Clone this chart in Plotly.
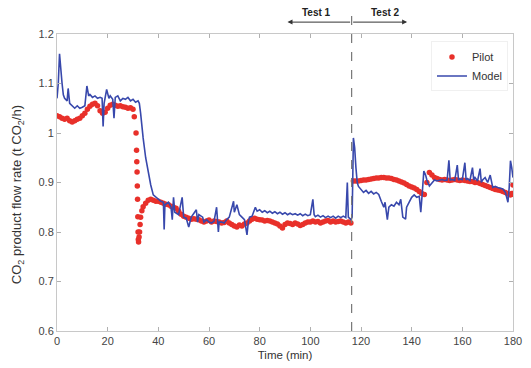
import plotly.graph_objects as go

# Pilot measurements (time in min, flow in t CO2/h)
pilot_t = [0, 1, 2, 3, 4, 5, 6, 7, 8, 9, 10, 11, 12, 13, 14, 15, 16, 17, 18, 19,
           20, 21, 22, 23, 24, 25, 26, 27, 28, 29, 30, 30.5, 31.2, 31.4, 31.5, 31.6,
           31.7, 31.8, 31.9, 32.0, 32.1, 32.2, 32.4, 32.6, 32.8, 33, 33.5, 34, 35, 36,
           37, 38, 39, 40, 41, 42, 43, 44, 45, 46, 47, 48, 49, 50, 51, 52, 53, 54, 55,
           56, 57, 58, 59, 60, 61, 62, 63, 64, 65, 66, 67, 68, 69, 70, 71, 72, 73, 74,
           75, 76, 77, 78, 79, 80, 81, 82, 83, 84, 85, 86, 87, 88, 89, 90, 91, 92, 93,
           94, 95, 96, 97, 98, 99, 100, 101, 102, 103, 104, 105, 106, 107, 108, 109,
           110, 111, 112, 113, 114, 115, 116,
           117, 118, 119, 120, 121, 122, 123, 124, 125, 126, 127, 128, 129, 130, 131,
           132, 133, 134, 135, 136, 137, 138, 139, 140, 141, 142, 143, 144, 145, 146,
           147, 148, 149, 150, 151, 152, 153, 154, 155, 156, 157, 158, 159, 160, 161,
           162, 163, 164, 165, 166, 167, 168, 169, 170, 171, 172, 173, 174, 175, 176,
           177, 178, 179, 179.5, 180]
pilot_v = [1.035, 1.033, 1.030, 1.028, 1.030, 1.025, 1.022, 1.025, 1.028, 1.030,
           1.035, 1.040, 1.048, 1.054, 1.058, 1.060, 1.055, 1.045, 1.040, 1.042,
           1.050, 1.056, 1.058, 1.056, 1.054, 1.055, 1.053, 1.052, 1.050, 1.051,
           1.048, 1.033, 1.000, 0.965, 0.942, 0.921, 0.893, 0.866, 0.831, 0.800,
           0.785, 0.780, 0.790, 0.800, 0.815, 0.830, 0.843, 0.851, 0.858, 0.864,
           0.866, 0.864, 0.862, 0.862, 0.860, 0.858, 0.856, 0.855, 0.852, 0.850,
           0.848, 0.842, 0.836, 0.832, 0.830, 0.828, 0.826, 0.827, 0.826, 0.825,
           0.822, 0.820, 0.822, 0.824, 0.820, 0.822, 0.821, 0.820, 0.818, 0.819,
           0.822, 0.818, 0.815, 0.812, 0.810, 0.814, 0.812, 0.816, 0.818, 0.822,
           0.826, 0.828, 0.826, 0.825, 0.824, 0.822, 0.823, 0.822, 0.820, 0.818,
           0.816, 0.812, 0.808, 0.815, 0.818, 0.817, 0.815, 0.818, 0.816, 0.813,
           0.815, 0.818, 0.820, 0.820, 0.822, 0.820, 0.821, 0.818, 0.820, 0.822,
           0.823, 0.820, 0.822, 0.820, 0.821, 0.822, 0.820, 0.818, 0.820, 0.818,
           0.903, 0.903, 0.903, 0.904, 0.905, 0.905, 0.906, 0.907, 0.908, 0.909,
           0.909, 0.910, 0.910, 0.909, 0.909, 0.908, 0.906, 0.905, 0.903, 0.901,
           0.899, 0.896, 0.893, 0.891, 0.889, 0.886, 0.882, 0.878, 0.876, 0.900,
           0.920, 0.915, 0.910, 0.908, 0.906, 0.905, 0.906, 0.905, 0.904, 0.905,
           0.906, 0.905, 0.904, 0.905, 0.904, 0.903, 0.902, 0.902, 0.900, 0.900,
           0.898, 0.896, 0.894, 0.892, 0.890, 0.888, 0.886, 0.885, 0.884, 0.882,
           0.880, 0.877, 0.875, 0.878, 0.895, 0.912]

# Model prediction
model_t = [0, 0.5, 1, 1.5, 2, 2.5, 3, 4, 4.4, 5, 6, 7, 8, 9, 10, 11, 11.8, 12.5, 13,
           14, 15, 16, 17, 17.8, 18.2, 18.6, 19.6, 20.5, 21, 22, 22.5, 23, 24, 25, 26,
           27, 28, 29, 30, 31, 32, 32.5, 33, 33.5, 34, 35, 36, 37, 38, 39, 40, 41, 42,
           42.3, 42.6, 44, 45, 45.5, 46, 46.5, 48, 49.4, 50, 51, 52, 53, 55, 55.5, 56,
           57.5, 58, 59, 60, 61, 62, 63, 63.7, 64, 65, 66, 67, 68, 69.7, 70, 71, 72, 73,
           74, 75, 75.5, 76, 77, 78.3, 79, 80, 81, 82, 83, 84, 85, 86, 87, 88, 89, 90,
           91, 92, 93, 94, 95, 96, 97, 98, 99, 100, 101, 101.5, 102, 103, 104, 105,
           106, 107, 108, 109, 110, 111, 112, 113, 114, 114.6, 115, 116, 116.5, 117,
           117.5, 118, 118.5, 119, 120, 121, 122, 123, 124, 125, 126, 127, 128, 129,
           129.5, 130.4, 131, 132, 133, 134, 135, 135.7, 136.5, 137.6, 138, 139, 140,
           141, 142, 143, 143.6, 144.2, 144.8, 145.5, 146, 147, 148, 149, 150, 151,
           152, 153, 154, 154.7, 155.2, 156, 157, 158, 158.5, 159, 160, 161, 161.5,
           162, 163, 164, 164.5, 165, 166, 167, 167.5, 168, 169, 170, 171, 172, 173,
           174, 175, 176, 177, 178, 178.5, 179, 179.5, 180]
model_v = [1.070, 1.100, 1.160, 1.120, 1.100, 1.077, 1.070, 1.065, 1.090, 1.060,
           1.055, 1.050, 1.055, 1.050, 1.052, 1.055, 1.095, 1.075, 1.078, 1.072,
           1.075, 1.070, 1.072, 1.070, 1.013, 1.060, 1.088, 1.070, 1.075, 1.068,
           1.030, 1.072, 1.075, 1.065, 1.070, 1.068, 1.072, 1.065, 1.068, 1.062,
           1.065, 1.060, 1.040, 1.010, 0.990, 0.950, 0.920, 0.895, 0.875, 0.870,
           0.866, 0.862, 0.860, 0.805, 0.855, 0.860, 0.850, 0.825, 0.870, 0.840,
           0.835, 0.870, 0.830, 0.828, 0.810, 0.830, 0.845, 0.820, 0.835, 0.830,
           0.820, 0.825, 0.820, 0.818, 0.822, 0.850, 0.800, 0.820, 0.820, 0.818,
           0.825, 0.830, 0.862, 0.840, 0.855, 0.835, 0.830, 0.825, 0.794, 0.820,
           0.830, 0.832, 0.850, 0.842, 0.845, 0.840, 0.843, 0.839, 0.842, 0.838,
           0.841, 0.837, 0.840, 0.836, 0.839, 0.835, 0.838, 0.835, 0.837, 0.834,
           0.837, 0.833, 0.836, 0.833, 0.835, 0.866, 0.835, 0.831, 0.834, 0.830,
           0.833, 0.829, 0.832, 0.829, 0.832, 0.828, 0.832, 0.829, 0.832, 0.829,
           0.900, 0.830, 0.825, 0.830, 0.990, 0.970, 0.930, 0.900, 0.892, 0.885,
           0.880, 0.884, 0.878, 0.882, 0.877, 0.880, 0.876, 0.862, 0.850, 0.860,
           0.825, 0.850, 0.855, 0.852, 0.860, 0.855, 0.866, 0.830, 0.826, 0.850,
           0.860, 0.870, 0.875, 0.870, 0.872, 0.840, 0.880, 0.923, 0.915, 0.905,
           0.893, 0.900, 0.905, 0.903, 0.905, 0.906, 0.904, 0.905, 0.945, 0.905,
           0.906, 0.904, 0.935, 0.905, 0.907, 0.906, 0.940, 0.905, 0.908, 0.904,
           0.930, 0.905, 0.910, 0.903, 0.928, 0.900, 0.905, 0.910, 0.900, 0.915,
           0.890, 0.892, 0.890, 0.888, 0.887, 0.880, 0.860, 0.890, 0.944, 0.930,
           0.910]

x_ticks = [0, 20, 40, 60, 80, 100, 120, 140, 160, 180]
y_ticks = [0.6, 0.7, 0.8, 0.9, 1.0, 1.1, 1.2]
y_tick_labels = ["0.6", "0.7", "0.8", "0.9", "1", "1.1", "1.2"]
test_boundary = 116.3
test1_start = 91
test2_end = 138.2
test1_label_x = 102.6
test2_label_x = 129.7

FONT = "Liberation Sans, Arial"

fig = go.Figure()
fig.add_trace(go.Scatter(x=pilot_t, y=pilot_v, mode="markers", name="Pilot",
                         marker=dict(color="#e8302a", size=5.5, symbol="circle",
                                     line=dict(width=0))))
fig.add_trace(go.Scatter(x=model_t, y=model_v, mode="lines", name="Model",
                         line=dict(color="#3848ac", width=1.6)))

axis_common = dict(showgrid=False, zeroline=False, showline=True, linecolor="#c8c8c8",
                   linewidth=1, mirror="allticks", ticks="inside", ticklen=4,
                   tickcolor="#b0b0b0", ticklabeloverflow="allow",
                   tickfont=dict(family=FONT, size=11, color="#444"))
fig.update_xaxes(range=[0, 180], tickvals=x_ticks,
                 title=dict(text="Time (min)", font=dict(family=FONT, size=11.5, color="#333"),
                            standoff=4),
                 **axis_common)
fig.update_yaxes(range=[0.6, 1.2], tickvals=y_ticks, ticktext=y_tick_labels,
                 **axis_common)

# y-axis title placed as rotated text
fig.add_annotation(x=-0.086, y=0.46, xref="paper", yref="paper", textangle=-90,
                   text="CO<sub>2</sub> product flow rate (t CO<sub>2</sub>/h)",
                   showarrow=False, xanchor="center", yanchor="middle",
                   font=dict(family=FONT, size=13, color="#333"))

fig.add_shape(type="line", xref="x", yref="paper", x0=test_boundary, x1=test_boundary,
              y0=0, y1=1.1, line=dict(color="#777", width=1.2, dash="dash"))

fig.add_annotation(x=test1_start, y=1.04, xref="x", yref="paper", ax=test_boundary,
                   ay=0, axref="x", ayref="pixel", showarrow=True, arrowhead=2,
                   arrowsize=1, arrowwidth=1, arrowcolor="#333", text="")
fig.add_annotation(x=test2_end, y=1.04, xref="x", yref="paper", ax=test_boundary,
                   ay=0, axref="x", ayref="pixel", showarrow=True, arrowhead=2,
                   arrowsize=1, arrowwidth=1, arrowcolor="#333", text="")
fig.add_annotation(x=test1_label_x, y=1.074, xref="x", yref="paper",
                   xanchor="center", yanchor="middle",
                   text="<b>Test 1</b>", showarrow=False,
                   font=dict(family=FONT, size=10, color="#222"))
fig.add_annotation(x=test2_label_x, y=1.074, xref="x", yref="paper",
                   xanchor="center", yanchor="middle",
                   text="<b>Test 2</b>", showarrow=False,
                   font=dict(family=FONT, size=10, color="#222"))

# The page body adds an 8px offset, so the figure is sized to fill the rest.
fig.update_layout(width=523, height=360, margin=dict(l=49, r=9, t=26, b=37),
                  plot_bgcolor="white", paper_bgcolor="white",
                  legend=dict(x=0.989, y=0.975, xanchor="right", yanchor="top",
                              bgcolor="rgba(255,255,255,0.9)", bordercolor="#f0f0f0",
                              borderwidth=1, itemwidth=30, tracegroupgap=0,
                              font=dict(family=FONT, size=11, color="#333")),
                  showlegend=True)

fig.write_html("out.html")
